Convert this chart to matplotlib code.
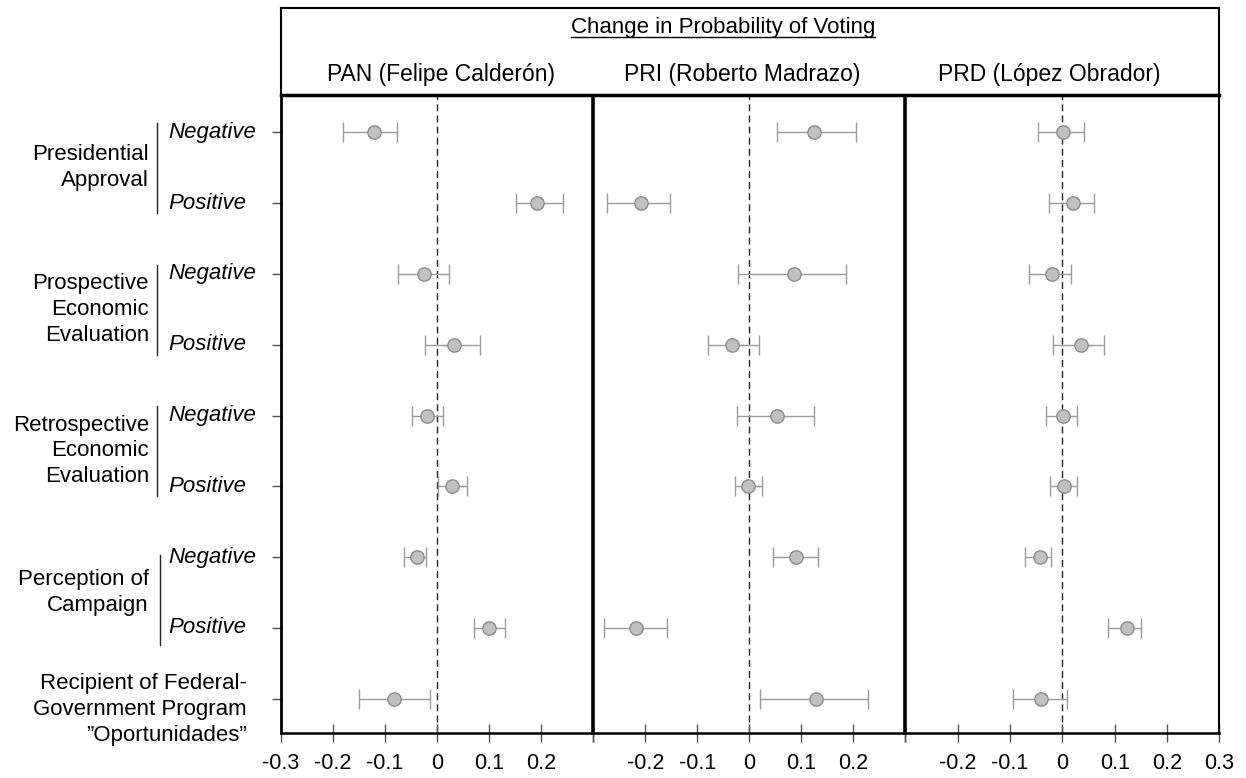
import matplotlib
matplotlib.use('Agg')
import matplotlib.pyplot as plt
import matplotlib.transforms as mtransforms
from matplotlib.lines import Line2D

plt.rcParams['font.family'] = ['Liberation Sans', 'DejaVu Sans']

# ---- data ----
groups = ['Presidential\nApproval', 'Prospective\nEconomic\nEvaluation',
          'Retrospective\nEconomic\nEvaluation', 'Perception of\nCampaign']
recipient_label = 'Recipient of Federal-\nGovernment Program\n”Oportunidades”'
row_labels = ['Negative', 'Positive'] * 4
parties = ['PAN (Felipe Calderón)', 'PRI (Roberto Madrazo)', 'PRD (López Obrador)']
title = 'Change in Probability of Voting'

pan_est = [-0.122, 0.192, -0.026, 0.033, -0.019, 0.028, -0.039, 0.100, -0.082]
pan_lo = [-0.181, 0.152, -0.075, -0.023, -0.049, 0.001, -0.063, 0.071, -0.151]
pan_hi = [-0.078, 0.242, 0.023, 0.083, 0.011, 0.057, -0.022, 0.131, -0.014]

pri_est = [0.125, -0.208, 0.085, -0.034, 0.053, -0.002, 0.090, -0.217, 0.129]
pri_lo = [0.054, -0.274, -0.022, -0.079, -0.024, -0.028, 0.045, -0.279, 0.020]
pri_hi = [0.205, -0.152, 0.185, 0.018, 0.124, 0.024, 0.133, -0.159, 0.229]

prd_est = [0.001, 0.020, -0.020, 0.036, 0.001, 0.004, -0.043, 0.124, -0.040]
prd_lo = [-0.047, -0.026, -0.063, -0.018, -0.031, -0.024, -0.071, 0.088, -0.094]
prd_hi = [0.042, 0.060, 0.016, 0.079, 0.028, 0.029, -0.022, 0.151, 0.009]

xticks = [-0.3, -0.2, -0.1, 0, 0.1, 0.2, 0.3]
xtick_labels = ['-0.3', '-0.2', '-0.1', '0', '0.1', '0.2', '0.3']

rows = list(range(1, 10))

W, H = 1246, 778


def fx(px):
    return px / W


def fy(py):
    return 1 - py / H


fig = plt.figure(figsize=(W / 100, H / 100), dpi=100)

panel_left = [281, 593.3, 905.3]
panel_width = [312.3, 312, 314]
top, bottom = 95, 733

series = [(pan_est, pan_lo, pan_hi), (pri_est, pri_lo, pri_hi), (prd_est, prd_lo, prd_hi)]
axes = []
for i, (est, lo, hi) in enumerate(series):
    ax = fig.add_axes([fx(panel_left[i]), fy(bottom), panel_width[i] / W, (bottom - top) / H])
    axes.append(ax)
    xerr = [[e - l for e, l in zip(est, lo)], [h - e for e, h in zip(est, hi)]]
    ax.axvline(0, color='#222222', lw=1, ls=(0, (5, 3)), zorder=1)
    ax.errorbar(est, rows, xerr=xerr, fmt='o', ms=9.6, mfc='#c0c0c0', mec='#8c8c8c',
                mew=1, ecolor='#9a9a9a', elinewidth=1, capsize=7.5, capthick=1, zorder=3)
    ax.set_xlim(-0.3, 0.3)
    ax.set_ylim(9.483, 0.473)
    labs = list(xtick_labels)
    if i != 0:
        labs[0] = ''
    if i != 2:
        labs[-1] = ''
    ax.set_xticks(xticks)
    ax.set_xticklabels(labs)
    ax.tick_params(axis='x', direction='inout', length=13, width=1, color='#555555',
                   labelsize=15.5, pad=8)
    ax.spines['top'].set_visible(False)
    ax.spines['bottom'].set_linewidth(1.8)
    if i == 0:
        ax.set_yticks(rows)
        ax.set_yticklabels([''] * len(rows))
        ax.tick_params(axis='y', direction='out', length=6.5, width=1, color='#555555')
        ax.spines['left'].set_linewidth(2)
    else:
        ax.set_yticks([])
        ax.spines['left'].set_linewidth(2.6)
    if i == 2:
        ax.spines['right'].set_linewidth(1.5)
    else:
        ax.spines['right'].set_visible(False)

# ---- left-hand labels ----
ax0 = axes[0]
trans = mtransforms.blended_transform_factory(fig.transFigure, ax0.transData)
for r, lab in zip(rows, row_labels):
    ax0.text(fx(168), r, lab, transform=trans, ha='left', va='center',
             fontsize=16, style='italic', clip_on=False)

bracket_x = [157, 157, 157, 160]
for k, g in enumerate(groups):
    r1, r2 = rows[2 * k], rows[2 * k + 1]
    ax0.text(fx(149), (r1 + r2) / 2, g, transform=trans, ha='right', va='center',
             multialignment='right', fontsize=16, linespacing=1.3, clip_on=False)
    y0, y1 = r1 - 0.13, r2 + 0.14
    if k == 3:
        y0, y1 = r1 - 0.03, r2 + 0.24
    ax0.add_line(Line2D([fx(bracket_x[k])] * 2, [y0, y1], transform=trans,
                        color='#222222', lw=1, clip_on=False))

ax0.text(fx(247), rows[8] + 0.15, recipient_label, transform=trans, ha='right',
         va='center', multialignment='right', fontsize=16, linespacing=1.3,
         clip_on=False)

# ---- header box ----
hax = fig.add_axes([fx(281), fy(95), (1219 - 281) / W, (95 - 8) / H])
hax.set_xticks([])
hax.set_yticks([])
for s in ['top', 'left', 'right']:
    hax.spines[s].set_linewidth(1.5)
hax.spines['bottom'].set_linewidth(2.5)

t = fig.text(fx(723), fy(27), title, ha='center', va='center', fontsize=16)
party_x = [441, 742, 1049]
for px, p in zip(party_x, parties):
    fig.text(fx(px), fy(74), p, ha='center', va='center', fontsize=16.5)

fig.canvas.draw()
bb = t.get_window_extent().transformed(fig.transFigure.inverted())
fig.add_artist(Line2D([bb.x0, bb.x1], [fy(37), fy(37)], transform=fig.transFigure,
                      color='black', lw=1))

fig.savefig('out.png', dpi=100)
